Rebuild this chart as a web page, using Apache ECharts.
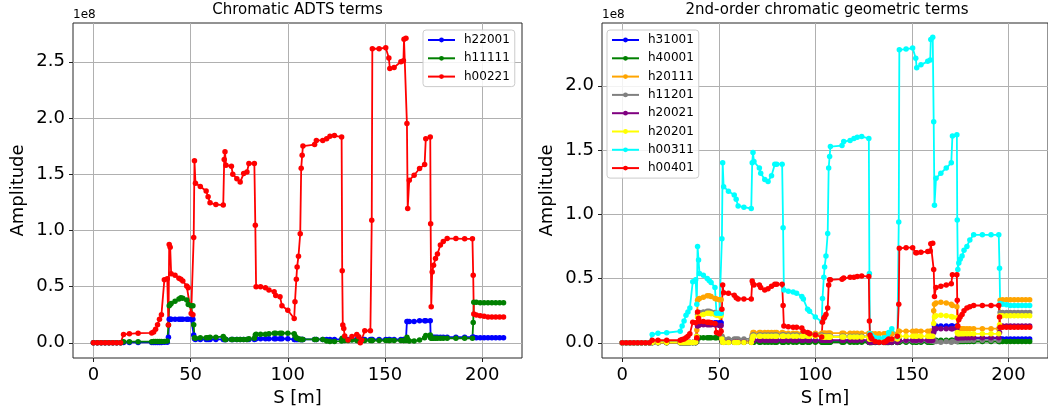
<!DOCTYPE html>
<html>
<head>
<meta charset="utf-8">
<script src="https://cdn.jsdelivr.net/npm/echarts@6/dist/echarts.min.js"></script>
<style>
  html, body { margin: 0; padding: 0; background: #fff; }
  #chart { width: 1048px; height: 414px; }
</style>
</head>
<body>
<div id="chart"></div>
<script>
// ---- data (amplitudes in units of 1e8) ----
const S = [
  0,2,4,6,8,10,12,14,
  15.5,18.5,23,30,31,32,33,34,35,36.5,38,
  38.6,39,39.5,40,42,44,45,46,48,48.8,50.3,51.2,
  51.6,52,52.5,55,58,59,60,63,66.8,
  67.3,67.7,68.2,71,71.7,73.8,75.5,77.3,79,80,82.8,
  83.3,83.7,86,88.5,90.3,93,93.8,96,97,100,103.3,
  103.7,104.4,104.8,105.5,106.4,106.9,107.4,107.8,113.8,114.7,118,120,121.7,124,127.7,
  128,128.3,128.8,129.3,131,133,135.5,136.5,137.3,138,139.6,142.5,
  143.2,143.5,147,150.4,152,152.5,154.7,158.2,159.5,159.8,160.8,
  161.3,161.7,162.5,165,167.8,170.4,171,173.3,
  173.5,173.8,174.3,175,176,177,178.5,180,182,186.5,191,195,
  195.4,195.7,197,199,201,203,205,207,209,211
];

// Left panel: Chromatic ADTS terms
const h22001 = [
  0,0,0,0,0,0,0,0,
  0.003,0.003,0.003,0.003,0.003,0.003,0.003,0.003,0.003,0.005,0.005,
  0.05,0.21,0.21,0.21,0.21,0.21,0.21,0.21,0.21,0.21,0.21,0.21,
  0.07,0.035,0.03,0.03,0.03,0.03,0.03,0.03,0.03,
  0.03,0.03,0.03,0.03,0.03,0.03,0.03,0.03,0.03,0.03,0.03,
  0.035,0.035,0.035,0.035,0.035,0.035,0.035,0.035,0.035,0.035,0.03,
  0.03,0.03,0.03,0.03,0.03,0.03,0.03,0.03,0.03,0.03,0.03,0.03,0.03,0.03,0.03,
  0.03,0.03,0.03,0.03,0.03,0.03,0.03,0.03,0.03,0.03,0.03,0.03,
  0.03,0.03,0.03,0.03,0.03,0.03,0.03,0.03,0.03,0.03,0.03,
  0.19,0.19,0.19,0.19,0.195,0.195,0.195,0.195,
  0.05,0.05,0.05,0.05,0.05,0.05,0.05,0.05,0.05,0.05,0.05,0.05,
  0.05,0.05,0.045,0.045,0.045,0.045,0.045,0.045,0.045,0.045
];
const h11111 = [
  0,0,0,0,0,0,0,0,
  0.01,0.01,0.01,0.01,0.012,0.012,0.012,0.012,0.012,0.012,0.015,
  0.157,0.33,0.34,0.35,0.37,0.39,0.40,0.395,0.38,0.34,0.33,0.33,
  0.16,0.045,0.04,0.045,0.045,0.045,0.05,0.05,0.055,
  0.04,0.03,0.03,0.03,0.03,0.03,0.03,0.03,0.03,0.035,0.04,
  0.07,0.075,0.075,0.075,0.08,0.085,0.085,0.085,0.085,0.085,0.08,
  0.06,0.045,0.04,0.035,0.03,0.03,0.03,0.03,0.03,0.03,0.03,0.015,0.012,0.012,0.015,
  0.04,0.035,0.025,0.02,0.02,0.025,0.02,0.015,0.015,0.02,0.02,0.02,
  0.02,0.02,0.02,0.02,0.02,0.02,0.02,0.02,0.02,0.02,0.02,
  0.05,0.03,0.015,0.015,0.025,0.045,0.065,0.07,
  0.045,0.04,0.04,0.04,0.04,0.04,0.04,0.04,0.04,0.04,0.04,0.04,
  0.18,0.36,0.36,0.355,0.355,0.355,0.355,0.355,0.355,0.355
];
const h00221 = [
  0,0,0,0,0,0,0,0,
  0.074,0.08,0.085,0.088,0.095,0.12,0.16,0.21,0.25,0.56,0.57,
  0.157,0.874,0.85,0.615,0.60,0.575,0.565,0.55,0.505,0.49,0.26,0.25,
  0.936,1.62,1.42,1.39,1.35,1.30,1.245,1.23,1.225,
  1.63,1.70,1.58,1.57,1.50,1.46,1.43,1.505,1.52,1.595,1.595,
  1.046,0.498,0.498,0.49,0.47,0.453,0.42,0.41,0.33,0.29,0.216,
  0.365,0.566,0.675,0.77,0.97,1.553,1.668,1.75,1.763,1.80,1.80,1.816,1.837,1.843,1.83,
  0.64,0.157,0.127,0.06,0.024,0.055,0.074,0.053,0.0,0.024,0.107,0.107,
  1.09,2.616,2.616,2.625,2.533,2.44,2.45,2.50,2.51,2.70,2.71,
  1.95,1.194,1.446,1.49,1.55,1.585,1.816,1.83,
  1.06,0.32,0.63,0.69,0.75,0.79,0.87,0.90,0.927,0.927,0.925,0.925,
  0.60,0.255,0.246,0.24,0.235,0.23,0.23,0.23,0.23,0.23
];

// Right panel: 2nd-order chromatic geometric terms
const h31001 = [
  0,0,0,0,0,0,0,0,
  0.002,0.002,0.002,0.002,0.002,0.002,0.002,0.002,0.002,0.002,0.002,
  0.04,0.15,0.155,0.155,0.155,0.155,0.155,0.155,0.155,0.155,0.155,0.155,
  0.03,0.01,0.01,0.01,0.01,0.01,0.01,0.01,0.01,
  0.015,0.015,0.015,0.015,0.015,0.015,0.015,0.015,0.015,0.015,0.015,
  0.015,0.015,0.015,0.015,0.015,0.015,0.015,0.015,0.015,0.015,0.015,
  0.015,0.015,0.015,0.015,0.015,0.015,0.015,0.015,0.015,0.015,0.015,0.015,0.015,0.015,0.015,
  0.005,0.005,0.005,0.005,0.005,0.005,0.005,0.005,0.005,0.005,0.005,0.005,
  0.01,0.01,0.01,0.01,0.01,0.01,0.01,0.01,0.01,0.01,0.01,
  0.09,0.13,0.13,0.13,0.13,0.13,0.13,0.13,
  0.035,0.035,0.035,0.035,0.035,0.035,0.035,0.035,0.035,0.035,0.035,0.035,
  0.03,0.03,0.03,0.03,0.03,0.03,0.03,0.03,0.03,0.03
];
const h40001 = [
  0,0,0,0,0,0,0,0,
  0.001,0.001,0.001,0.001,0.001,0.001,0.001,0.001,0.001,0.001,0.001,
  0.01,0.04,0.04,0.04,0.04,0.04,0.04,0.04,0.04,0.04,0.04,0.04,
  0.01,0.005,0.005,0.005,0.005,0.005,0.005,0.005,0.005,
  0.005,0.005,0.005,0.005,0.005,0.005,0.005,0.005,0.005,0.005,0.005,
  0.005,0.005,0.005,0.005,0.005,0.005,0.005,0.005,0.005,0.005,0.005,
  0.005,0.005,0.005,0.005,0.005,0.005,0.005,0.005,0.005,0.005,0.005,0.005,0.005,0.005,0.005,
  0.003,0.003,0.003,0.003,0.003,0.003,0.003,0.003,0.003,0.003,0.003,0.003,
  0.005,0.005,0.005,0.005,0.005,0.005,0.005,0.005,0.005,0.005,0.005,
  0.02,0.02,0.02,0.02,0.02,0.02,0.02,0.02,
  0.01,0.01,0.01,0.01,0.01,0.01,0.01,0.01,0.01,0.01,0.01,0.01,
  0.01,0.01,0.01,0.01,0.01,0.01,0.01,0.01,0.01,0.01
];
const h20111 = [
  0,0,0,0,0,0,0,0,
  0.003,0.003,0.003,0.003,0.003,0.003,0.003,0.003,0.003,0.003,0.01,
  0.10,0.33,0.34,0.345,0.355,0.365,0.365,0.36,0.345,0.34,0.335,0.335,
  0.05,0.01,0.01,0.01,0.01,0.01,0.01,0.01,0.01,
  0.06,0.08,0.08,0.08,0.08,0.08,0.08,0.08,0.08,0.08,0.08,
  0.075,0.075,0.075,0.075,0.075,0.075,0.075,0.075,0.075,0.075,0.075,
  0.075,0.075,0.075,0.075,0.075,0.075,0.075,0.075,0.075,0.075,0.075,0.075,0.075,0.075,0.075,
  0.07,0.07,0.07,0.07,0.07,0.07,0.07,0.07,0.07,0.07,0.07,0.07,
  0.09,0.09,0.09,0.09,0.09,0.09,0.09,0.09,0.09,0.09,0.09,
  0.25,0.30,0.31,0.315,0.31,0.30,0.29,0.28,
  0.12,0.11,0.11,0.11,0.11,0.11,0.11,0.11,0.11,0.11,0.11,0.11,
  0.20,0.33,0.335,0.335,0.335,0.335,0.335,0.335,0.335,0.335
];
const h11201 = [
  0,0,0,0,0,0,0,0,
  0.002,0.002,0.002,0.002,0.002,0.002,0.002,0.002,0.002,0.002,0.002,
  0.05,0.22,0.23,0.235,0.24,0.245,0.245,0.24,0.235,0.23,0.23,0.225,
  0.05,0.03,0.03,0.03,0.03,0.03,0.03,0.03,0.03,
  0.05,0.06,0.06,0.06,0.06,0.06,0.06,0.06,0.06,0.06,0.06,
  0.06,0.06,0.06,0.06,0.06,0.06,0.06,0.06,0.065,0.065,0.06,
  0.05,0.05,0.05,0.05,0.05,0.05,0.05,0.05,0.05,0.05,0.05,0.05,0.05,0.05,0.05,
  0.01,0.01,0.01,0.01,0.01,0.01,0.01,0.01,0.01,0.01,0.01,0.01,
  0.015,0.015,0.015,0.015,0.015,0.015,0.015,0.015,0.015,0.015,0.015,
  0.01,0.015,0.01,0.005,0.01,0.005,0.01,0.01,
  0.02,0.02,0.02,0.02,0.02,0.02,0.02,0.02,0.02,0.02,0.02,0.02,
  0.12,0.235,0.235,0.235,0.235,0.235,0.235,0.235,0.235,0.235
];
const h20021 = [
  0,0,0,0,0,0,0,0,
  0.002,0.002,0.002,0.002,0.002,0.002,0.002,0.002,0.002,0.002,0.002,
  0.03,0.13,0.135,0.14,0.14,0.14,0.14,0.14,0.14,0.14,0.135,0.135,
  0.02,0.005,0.005,0.005,0.005,0.005,0.005,0.005,0.005,
  0.01,0.02,0.02,0.02,0.02,0.02,0.02,0.02,0.02,0.02,0.02,
  0.02,0.02,0.02,0.02,0.02,0.02,0.02,0.02,0.02,0.02,0.02,
  0.02,0.02,0.02,0.02,0.02,0.02,0.02,0.02,0.02,0.02,0.02,0.02,0.02,0.02,0.02,
  0.005,0.005,0.005,0.005,0.005,0.005,0.005,0.005,0.005,0.005,0.005,0.005,
  0.02,0.02,0.02,0.02,0.02,0.02,0.02,0.02,0.02,0.02,0.02,
  0.08,0.11,0.11,0.11,0.11,0.11,0.11,0.11,
  0.04,0.04,0.04,0.04,0.04,0.04,0.04,0.04,0.04,0.04,0.04,0.04,
  0.08,0.13,0.13,0.13,0.13,0.13,0.13,0.13,0.13,0.13
];
const h20201 = [
  0,0,0,0,0,0,0,0,
  0.002,0.002,0.002,0.002,0.002,0.002,0.002,0.002,0.002,0.002,0.005,
  0.05,0.20,0.21,0.215,0.22,0.23,0.23,0.225,0.22,0.215,0.21,0.21,
  0.03,0.005,0.002,0.002,0.002,0.002,0.002,0.002,0.002,
  0.03,0.05,0.05,0.05,0.05,0.05,0.05,0.05,0.05,0.05,0.05,
  0.05,0.05,0.05,0.05,0.05,0.05,0.05,0.05,0.05,0.05,0.05,
  0.045,0.045,0.045,0.045,0.045,0.045,0.045,0.045,0.045,0.045,0.045,0.045,0.045,0.045,0.045,
  0.03,0.03,0.03,0.03,0.03,0.03,0.03,0.03,0.03,0.03,0.03,0.03,
  0.05,0.05,0.05,0.05,0.05,0.05,0.05,0.05,0.05,0.05,0.05,
  0.15,0.20,0.21,0.215,0.21,0.205,0.20,0.195,
  0.08,0.07,0.07,0.07,0.07,0.07,0.07,0.07,0.07,0.07,0.07,0.07,
  0.14,0.21,0.21,0.21,0.21,0.21,0.21,0.21,0.21,0.21
];
const h00311 = [
  0,0,0,0,0,0,0,0,
  0.065,0.075,0.078,0.09,0.13,0.17,0.215,0.24,0.27,0.475,0.49,
  0.30,0.75,0.645,0.54,0.525,0.50,0.485,0.47,0.43,0.23,0.23,0.23,
  0.81,1.40,1.215,1.18,1.15,1.117,1.065,1.055,1.045,
  1.40,1.48,1.41,1.36,1.32,1.27,1.255,1.30,1.39,1.39,1.39,
  0.896,0.41,0.40,0.395,0.385,0.36,0.34,0.26,0.245,0.20,0.164,
  0.345,0.51,0.59,0.675,0.85,1.36,1.45,1.527,1.535,1.566,1.575,1.59,1.60,1.605,1.59,
  0.54,0.073,0.06,0.055,0.04,0.035,0.04,0.04,0.045,0.08,0.11,0.047,
  0.94,2.28,2.286,2.293,2.215,2.14,2.163,2.19,2.20,2.36,2.377,
  1.72,1.07,1.28,1.32,1.36,1.40,1.61,1.618,
  0.956,0.57,0.62,0.65,0.675,0.72,0.75,0.80,0.84,0.84,0.84,0.84,
  0.58,0.306,0.30,0.295,0.29,0.29,0.29,0.29,0.29,0.29
];
const h00401 = [
  0,0,0,0,0,0,0,0,
  0.02,0.02,0.02,0.02,0.025,0.03,0.04,0.05,0.07,0.16,0.155,
  0.04,0.24,0.19,0.165,0.165,0.16,0.16,0.155,0.15,0.08,0.07,0.09,
  0.26,0.45,0.39,0.385,0.37,0.35,0.34,0.34,0.34,
  0.48,0.46,0.45,0.45,0.43,0.41,0.42,0.44,0.455,0.455,0.455,
  0.29,0.13,0.125,0.12,0.12,0.115,0.09,0.08,0.07,0.06,0.045,
  0.16,0.19,0.20,0.22,0.27,0.45,0.49,0.49,0.495,0.505,0.51,0.51,0.515,0.52,0.515,
  0.17,0.06,0.04,0.03,0.01,0.005,0.005,0.01,0.02,0.03,0.03,0.05,
  0.30,0.735,0.74,0.74,0.70,0.70,0.705,0.71,0.715,0.77,0.775,
  0.57,0.36,0.43,0.44,0.45,0.46,0.53,0.53,
  0.33,0.13,0.18,0.20,0.22,0.25,0.27,0.28,0.29,0.29,0.29,0.29,
  0.20,0.12,0.12,0.12,0.12,0.12,0.12,0.12,0.12,0.12
];

const xTicks = [0, 50, 100, 150, 200];
const yTicksLeft = [0, 0.5, 1.0, 1.5, 2.0, 2.5];
const yTicksRight = [0, 0.5, 1.0, 1.5, 2.0];

const leftSeries = [
  { name: 'h22001', values: h22001, color: '#0000ff' },
  { name: 'h11111', values: h11111, color: '#008000' },
  { name: 'h00221', values: h00221, color: '#ff0000' }
];
const rightSeries = [
  { name: 'h31001', values: h31001, color: '#0000ff' },
  { name: 'h40001', values: h40001, color: '#008000' },
  { name: 'h20111', values: h20111, color: '#ffa500' },
  { name: 'h11201', values: h11201, color: '#808080' },
  { name: 'h20021', values: h20021, color: '#800080' },
  { name: 'h20201', values: h20201, color: '#ffff00' },
  { name: 'h00311', values: h00311, color: '#00ffff' },
  { name: 'h00401', values: h00401, color: '#ff0000' }
];

// ---- chart ----
const FONT = 'DejaVu Sans';
const chart = echarts.init(document.getElementById('chart'), null, { renderer: 'canvas' });

function mkSeries(def, idx) {
  return {
    type: 'line',
    name: def.name,
    xAxisIndex: idx, yAxisIndex: idx,
    data: S.map((s, i) => [s, def.values[i]]),
    symbol: 'circle', symbolSize: 5.5, showSymbol: true,
    lineStyle: { width: 1.8, color: def.color },
    itemStyle: { color: def.color },
    emphasis: { disabled: true },
    animation: false
  };
}

function xAxisDef(gi) {
  return {
    type: 'value', gridIndex: gi, min: -10.5, max: 220.5,
    name: 'S [m]', nameLocation: 'middle', nameGap: 31,
    nameTextStyle: { fontFamily: FONT, fontSize: 18, color: '#000' },
    axisLine: { show: false, onZero: false },
    axisTick: { show: true, length: 4, lineStyle: { color: '#222', width: 1 }, customValues: xTicks },
    axisLabel: { fontFamily: FONT, fontSize: 18, color: '#000', margin: 8, customValues: xTicks,
      formatter: v => String(Math.round(v)) },
    splitLine: { show: true, lineStyle: { color: '#b0b0b0', width: 1 } }
  };
}
function yAxisDef(gi, min, max, ticks) {
  return {
    type: 'value', gridIndex: gi, min: min, max: max,
    name: 'Amplitude', nameLocation: 'middle', nameGap: 46, nameRotate: 90,
    nameTextStyle: { fontFamily: FONT, fontSize: 18, color: '#000' },
    axisLine: { show: false, onZero: false },
    axisTick: { show: true, length: 4, lineStyle: { color: '#222', width: 1 }, customValues: ticks },
    axisLabel: { fontFamily: FONT, fontSize: 18, color: '#000', margin: 8, customValues: ticks,
      formatter: v => v.toFixed(1) },
    splitLine: { show: true, lineStyle: { color: '#b0b0b0', width: 1 } }
  };
}

function legendDef(names, left) {
  return {
    show: true, orient: 'vertical', left: left, top: 30,
    data: names,
    itemWidth: 27, itemHeight: 6, itemGap: 4.3,
    padding: [3, 5, 3, 4],
    backgroundColor: 'rgba(255,255,255,0.85)',
    borderColor: '#cccccc', borderWidth: 1, borderRadius: 3,
    textStyle: { fontFamily: FONT, fontSize: 12, color: '#000', lineHeight: 14, padding: [0, 0, 0, 4] },
    selectedMode: false
  };
}

const option = {
  animation: false,
  backgroundColor: '#ffffff',
  textStyle: { fontFamily: FONT },
  title: [
    { text: 'Chromatic ADTS terms', left: 297.5, top: 3, textAlign: 'center', padding: 0,
      textStyle: { fontFamily: FONT, fontSize: 15, fontWeight: 'normal', color: '#000' } },
    { text: '2nd-order chromatic geometric terms', left: 827, top: 3, textAlign: 'center', padding: 0,
      textStyle: { fontFamily: FONT, fontSize: 15, fontWeight: 'normal', color: '#000' } }
  ],
  grid: [
    { left: 73, top: 23, width: 449, height: 335, show: true, borderColor: '#262626', borderWidth: 1, backgroundColor: 'transparent', containLabel: false },
    { left: 602, top: 23, width: 450, height: 335, show: true, borderColor: '#262626', borderWidth: 1, backgroundColor: 'transparent', containLabel: false }
  ],
  xAxis: [xAxisDef(0), xAxisDef(1)],
  yAxis: [yAxisDef(0, -0.1355, 2.845, yTicksLeft), yAxisDef(1, -0.1185, 2.4885, yTicksRight)],
  legend: [
    legendDef(leftSeries.map(d => d.name), 423),
    legendDef(rightSeries.map(d => d.name), 607)
  ],
  graphic: [
    { type: 'text', left: 73, top: 9, style: { text: '1e8', fontFamily: FONT, fontSize: 12, fill: '#000' } },
    { type: 'text', left: 602, top: 9, style: { text: '1e8', fontFamily: FONT, fontSize: 12, fill: '#000' } }
  ],
  series: leftSeries.map(d => mkSeries(d, 0)).concat(rightSeries.map(d => mkSeries(d, 1)))
};
chart.setOption(option);
</script>
</body>
</html>
